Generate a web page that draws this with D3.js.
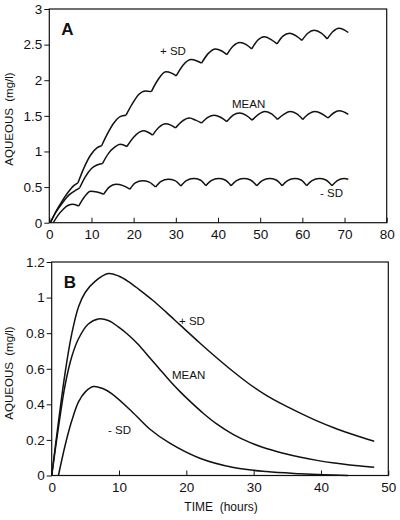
<!DOCTYPE html>
<html>
<head>
<meta charset="utf-8">
<script src="https://cdn.jsdelivr.net/npm/d3@7"></script>
<style>
  html, body { margin: 0; padding: 0; background: #fff; }
  svg { display: block; }
  text { font-family: "Liberation Sans", Arial, Helvetica, sans-serif; fill: #111; }
</style>
</head>
<body>
<script>
// ---------- Panel A: multiple dosing (time in hours, aqueous mg/l) ----------
const timeA_plusSD = [0.3,1.5,3,4.5,5.8,6.8,8.3,9.8,11.3,12.4,13.8,15.3,16.8,18.2,19.6,21.2,22.8,24.2,25.8,27.6,29.0,30.1,31.7,33.7,35.0,36.1,37.6,39.4,40.9,42.1,43.6,45.2,46.7,48.0,49.4,51.0,52.6,54.0,55.4,57.0,58.6,59.9,61.3,62.8,64.5,65.9,67.2,68.7,70.9];
const concA_plusSD = [0,0.15,0.30,0.43,0.52,0.56,0.78,0.95,1.05,1.08,1.25,1.40,1.49,1.51,1.66,1.80,1.85,1.84,2.01,2.12,2.10,2.06,2.21,2.29,2.27,2.24,2.37,2.44,2.41,2.36,2.48,2.53,2.50,2.44,2.56,2.61,2.57,2.51,2.62,2.66,2.62,2.56,2.66,2.70,2.66,2.58,2.68,2.73,2.67];

const timeA_mean = [0.2,1.5,3,4.7,6.4,7.2,8.5,10.0,11.3,12.6,14.0,15.5,16.8,18.4,20.0,22.3,23.4,24.5,26.0,27.6,28.8,29.9,31.4,33.2,34.7,36.1,37.6,39.1,40.6,42.1,43.6,45.1,46.6,48.1,49.6,51.1,52.6,54.1,55.6,57.1,58.6,60.1,61.6,63.0,64.6,66.1,67.4,68.8,70.9];
const concA_mean = [0,0.14,0.27,0.39,0.46,0.49,0.64,0.76,0.81,0.83,0.97,1.06,1.10,1.07,1.20,1.29,1.27,1.23,1.34,1.39,1.37,1.33,1.42,1.47,1.44,1.40,1.48,1.51,1.48,1.42,1.51,1.54,1.51,1.44,1.52,1.56,1.53,1.45,1.52,1.56,1.53,1.45,1.53,1.56,1.53,1.47,1.54,1.57,1.52];

const timeA_minusSD = [0.95,2.0,3.3,4.5,5.6,7.0,8.3,9.8,11.3,12.9,14.2,15.8,17.5,19.1,20.4,22.1,23.7,25.2,26.5,28.2,29.8,31.2,32.5,34.2,35.8,37.1,38.4,40.1,41.7,43.1,44.4,46.1,47.7,49.2,50.5,52.2,53.8,55.2,56.5,58.2,59.7,61.0,62.3,64.0,65.6,67.0,68.3,69.9,70.9];
const concA_minusSD = [0,0.10,0.19,0.245,0.26,0.235,0.36,0.44,0.43,0.40,0.50,0.54,0.52,0.47,0.56,0.59,0.57,0.50,0.58,0.61,0.59,0.515,0.59,0.62,0.60,0.52,0.59,0.62,0.60,0.52,0.59,0.62,0.60,0.52,0.59,0.62,0.60,0.52,0.59,0.62,0.60,0.52,0.59,0.62,0.60,0.52,0.59,0.62,0.61];

// ---------- Panel B: single dose ----------
const timeB_plusSD = [0,1,2,3,4,5,6.4,8.4,10,11.4,13,15,17,19.1,22,24.5,27,29.5,32,34.4,37,39.4,42,44.3,46,47.9];
const concB_plusSD = [0,0.30,0.58,0.80,0.95,1.03,1.09,1.135,1.12,1.09,1.045,0.985,0.918,0.845,0.745,0.662,0.583,0.51,0.448,0.398,0.349,0.307,0.267,0.236,0.215,0.193];

const timeB_mean = [0,1,2,3,4,5.4,6.9,8.5,9.9,11.4,12.9,14.6,16.1,17.6,19.1,20.6,22.5,24.5,27,29.5,32,34.4,37,39.4,42,44,47.9];
const concB_mean = [0,0.27,0.51,0.67,0.77,0.85,0.88,0.87,0.835,0.79,0.735,0.66,0.595,0.53,0.47,0.415,0.35,0.29,0.23,0.185,0.15,0.125,0.102,0.085,0.07,0.061,0.047];

const timeB_minusSD = [1.0,2,3,4,5,6.2,7.5,8.9,11.9,14.6,17.6,22,27,31.9,36.9,40.4,44];
const concB_minusSD = [0,0.17,0.31,0.415,0.47,0.50,0.49,0.46,0.36,0.26,0.18,0.097,0.045,0.022,0.01,0.004,0];

// ---------- ticks & labels ----------
const ticksAX = [0,10,20,30,40,50,60,70,80];
const ticksAY = [0,0.5,1,1.5,2,2.5,3];
const ticksBX = [0,10,20,30,40,50];
const ticksBY = [0,0.2,0.4,0.6,0.8,1,1.2];
const yTitle = "AQUEOUS\u00a0\u00a0(mg/l)";
const xTitle = "TIME\u00a0\u00a0(hours)";
const seriesNames = ["+ SD", "MEAN", "- SD"];

// ---------- drawing ----------
const svg = d3.select("body").append("svg").attr("width", 400).attr("height", 520);

function splitAtKinks(ts, vs) {
  const pts = ts.map((t, i) => [t, vs[i]]);
  const segs = [];
  let cur = [pts[0]];
  for (let i = 1; i < pts.length; i++) {
    cur.push(pts[i]);
    if (i < pts.length - 1) {
      const s1 = (pts[i][1] - pts[i-1][1]) / (pts[i][0] - pts[i-1][0]);
      const s2 = (pts[i+1][1] - pts[i][1]) / (pts[i+1][0] - pts[i][0]);
      if (s2 - s1 > 0.04) { segs.push(cur); cur = [pts[i]]; }
    }
  }
  segs.push(cur);
  return segs;
}

function panel(cfg) {
  const x = d3.scaleLinear().domain(cfg.xDomain).range([cfg.left, cfg.right]);
  const y = d3.scaleLinear().domain(cfg.yDomain).range([cfg.bottom, cfg.top]);
  const g = svg.append("g");

  const ya = g.append("g").attr("transform", `translate(${cfg.left},0)`)
    .call(d3.axisLeft(y).tickValues(cfg.yTicks).tickFormat(d => String(d)).tickSize(5).tickPadding(2));
  ya.select(".domain").remove();
  ya.selectAll("text").style("font-size", "13.5px").attr("font-family", null);
  ya.selectAll("line").attr("stroke", "#111");

  const xa = g.append("g").attr("transform", `translate(0,${cfg.bottom})`)
    .call(d3.axisBottom(x).tickValues(cfg.xTicks).tickFormat(d => String(d)).tickSize(-5).tickPadding(7));
  xa.select(".domain").remove();
  xa.selectAll("text").style("font-size", "13.5px").attr("font-family", null);
  xa.selectAll("line").attr("stroke", "#111");

  g.append("rect").attr("x", cfg.left).attr("y", cfg.top)
    .attr("width", cfg.right - cfg.left).attr("height", cfg.bottom - cfg.top)
    .attr("fill", "none").attr("stroke", "#111").attr("stroke-width", 1.2);

  const line = d3.line().x(d => x(d[0])).y(d => y(d[1])).curve(cfg.curve);
  cfg.series.forEach(s => {
    const segs = cfg.split ? splitAtKinks(s.t, s.v) : [s.t.map((t, i) => [t, s.v[i]])];
    segs.forEach(seg => {
      g.append("path").attr("d", line(seg)).attr("fill", "none")
        .attr("stroke", "#111").attr("stroke-width", 1.5).attr("stroke-linejoin", "round");
    });
  });

  cfg.labels.forEach(l => {
    g.append("text").attr("x", l.x).attr("y", l.y).style("font-size", "11.5px").text(l.text);
  });

  g.append("text").attr("x", cfg.left + 12).attr("y", cfg.top + 26)
    .style("font-size", "17px").style("font-weight", "bold").text(cfg.letter);

  g.append("text").attr("transform", `translate(13,${cfg.yTitleY}) rotate(-90)`)
    .attr("text-anchor", "middle").style("font-size", "11.5px").text(yTitle);
  return {x, y};
}

panel({
  left: 49.3, right: 386.7, top: 9, bottom: 222.7,
  xDomain: [0, 80], yDomain: [0, 3], xTicks: ticksAX, yTicks: ticksAY,
  split: true, curve: d3.curveMonotoneX, letter: "A", yTitleY: 119,
  series: [
    {t: timeA_plusSD, v: concA_plusSD},
    {t: timeA_mean, v: concA_mean},
    {t: timeA_minusSD, v: concA_minusSD}
  ],
  labels: [
    {text: seriesNames[0], x: 160, y: 55},
    {text: seriesNames[1], x: 232, y: 108},
    {text: seriesNames[2], x: 320, y: 197}
  ]
});

panel({
  left: 51.7, right: 388.3, top: 262, bottom: 475.5,
  xDomain: [0, 50], yDomain: [0, 1.2], xTicks: ticksBX, yTicks: ticksBY,
  split: false, curve: d3.curveCatmullRom.alpha(0.5), letter: "B", yTitleY: 373,
  series: [
    {t: timeB_plusSD, v: concB_plusSD},
    {t: timeB_mean, v: concB_mean},
    {t: timeB_minusSD, v: concB_minusSD}
  ],
  labels: [
    {text: seriesNames[0], x: 179, y: 325},
    {text: seriesNames[1], x: 172, y: 379},
    {text: seriesNames[2], x: 108, y: 434}
  ]
});

svg.append("text").attr("x", 221).attr("y", 511).attr("text-anchor", "middle")
  .style("font-size", "12px").text(xTitle);
</script>
</body>
</html>
